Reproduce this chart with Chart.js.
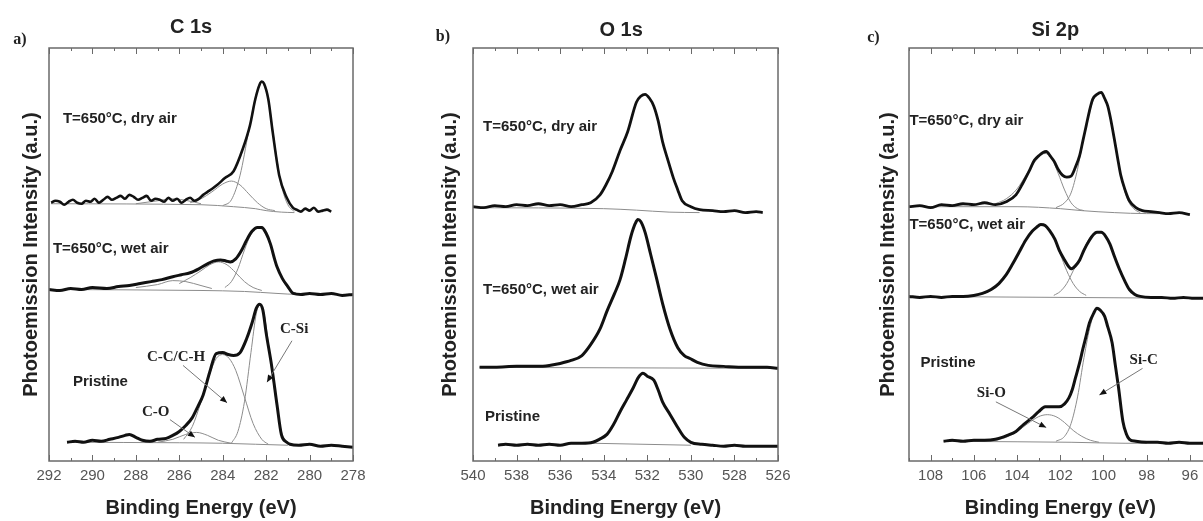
<!DOCTYPE html>
<html><head><meta charset="utf-8">
<script src="https://cdn.jsdelivr.net/npm/chart.js@4.4.1/dist/chart.umd.min.js"></script>
<style>
html,body{margin:0;padding:0;background:#fff;overflow:hidden;width:1203px;height:521px;}
#wrap{position:relative;width:1203px;height:521px;overflow:hidden;background:#fff;}
canvas{position:absolute;top:0;}
</style></head><body>
<div id="wrap">
<canvas id="ca" width="400" height="521" style="left:0"></canvas>
<canvas id="cb" width="400" height="521" style="left:400px"></canvas>
<canvas id="cc" width="420" height="521" style="left:800px"></canvas>
</div>
<script>
// ---------- tick labels ----------
const ticksA = [292,290,288,286,284,282,280,278];
const ticksB = [540,538,536,534,532,530,528,526];
const ticksC = [108,106,104,102,100,98,96];

// ---------- Panel a: C 1s ----------
const aDryE = [291.9,291.7,291.5,291.3,291.1,290.9,290.7,290.5,290.3,290.1,289.9,289.7,289.5,289.3,289.1,288.9,288.7,288.5,288.3,288.1,287.9,287.7,287.5,287.3,287.1,286.9,286.7,286.5,286.3,286.1,285.9,285.7,285.5,285.3,285.1,284.9,284.7,284.5,284.26,283.9,283.5,283.07,282.75,282.5,282.3,282.2,282.1,281.9,281.7,281.4,281.05,280.77,280.6,280.4,280.2,280.0,279.8,279.6,279.4,279.2,279.0];
const aDryI = [262,264,263,260,263,265,262,261,264,263,266,262,265,268,265,267,269,266,270,268,265,267,269,264,266,265,263,267,264,266,262,265,267,264,266,270,273,276,280,287,294,317,340,367,382,385,383,367,334,290,267,257,255,253,256,254,257,253,254,255,253];
const aDryBaseE = [291.9,285,283.5,282.5,282,281.3,280.7];
const aDryBaseI = [261,260,258,256,254,252.5,252];
const aDryCSiE = [284.0,283.6,283.2,282.8,282.5,282.2,281.9,281.6,281.3,281.0,280.7];
const aDryCSiI = [259,265,290,335,368,384,366,320,280,260,253];
const aDryCCE = [285.5,285.0,284.5,284.0,283.6,283.2,282.8,282.4,282.0,281.6];
const aDryCCI = [262,266,273,281,284,280,271,262,256,254];
const aDryCOE = [288.0,287.0,286.3,285.6,285.0];
const aDryCOI = [261,264,266,264,261];

const aWetE = [292.0,291.5,291.0,290.5,290.0,289.33,288.8,288.3,287.8,287.3,286.8,286.3,285.9,285.5,285.1,284.7,284.4,284.1,283.85,283.65,283.4,283.15,282.9,282.65,282.4,282.2,282.0,281.8,281.6,281.5,281.25,281.0,280.75,280.4,280.0,279.5,279.0,278.5,278.0];
const aWetI = [174,173,175,174,176,175,177,178,180,182,184,187,189,191,195,200,203,204,203,202,205,213,224,233,237,237,231,220,204,197,185,177,170,169,170,169,170,168,169];
const aWetBaseE = [292.0,285,283,281.5,280.5,278.0];
const aWetBaseI = [174,173,172,170,169,169];
const aWetCSiE = [283.9,283.6,283.3,283.0,282.7,282.4,282.1,281.8,281.5,281.2,280.9,280.6];
const aWetCSiI = [176,182,195,214,230,237,233,219,197,182,173,170];
const aWetCCE = [286.0,285.5,285.0,284.6,284.2,283.8,283.4,283.0,282.6,282.2];
const aWetCCI = [180,186,193,199,202,199,191,182,176,173];
const aWetCOE = [288.0,287.0,286.3,285.7,285.0,284.5];
const aWetCOI = [176,179,183,182,178,175];

const aPrisE = [291.17,290.8,290.4,290.0,289.6,289.2,288.8,288.5,288.3,288.0,287.7,287.35,287.0,286.6,286.3,286.0,285.7,285.4,285.15,284.9,284.6,284.3,284.0,283.75,283.5,283.2,282.9,282.65,282.45,282.3,282.15,282.0,281.75,281.5,281.3,281.05,280.9,280.5,280.0,279.5,279.0,278.5,278.0];
const aPrisI = [19,20,19,21,20,22,24,26,27,24,21,20,22,23,26,30,36,44,55,67,90,109,110,108,107,110,124,140,155,159,153,130,97,57,27,19,17,16,17,15,16,15,14];
const aPrisBaseE = [291.17,286,284,282.5,281.0];
const aPrisBaseI = [19,18.5,18,17,16];
const aPrisCSiE = [283.6,283.3,283.0,282.7,282.45,282.3,282.1,281.9,281.7,281.5,281.3,281.0];
const aPrisCSiI = [18,30,60,110,150,158,150,120,85,55,30,18];
const aPrisCCE = [285.8,285.4,285.0,284.6,284.3,284.0,283.7,283.4,283.0,282.6,282.2,281.9];
const aPrisCCI = [22,35,60,88,104,108,104,92,65,38,22,17];
const aPrisCOE = [287.0,286.3,285.7,285.2,284.7,284.2,283.6];
const aPrisCOI = [19,22,27,29,26,21,18];

// ---------- Panel b: O 1s ----------
const bDryE = [540.0,539.5,539.0,538.5,538.0,537.5,537.0,536.5,536.0,535.5,535.0,534.6,534.17,533.9,533.6,533.25,532.9,532.5,532.3,532.1,531.9,531.7,531.5,531.3,531.05,530.8,530.6,530.4,530.0,529.6,529.0,528.5,528.0,527.5,527.0,526.7];
const bDryI = [258,257,259,258,260,259,261,259,260,258,260,262,270,280,294,315,334,364,370,372,368,360,345,324,305,287,275,264,258,255,254,253,254,252,253,252];
const bDryBaseE = [540,534,532.5,531,529.6];
const bDryBaseI = [257,256,254.5,252.5,252];

const bWetE = [539.7,539.0,538.0,537.0,536.5,536.0,535.5,535.0,534.6,534.17,533.85,533.5,533.25,533.0,532.75,532.55,532.43,532.3,532.1,531.85,531.56,531.3,530.96,530.6,530.3,530.04,529.7,529.2,528.5,527.5,526.5,526.0];
const bWetI = [95,95,96,96,97,99,102,107,118,134,152,170,184,205,228,241,245,243,232,210,184,160,134,115,107,104,100,97,96,95,95,94];
const bWetBaseE = [539.7,526.0];
const bWetBaseI = [95,94];

const bPrisE = [538.85,538.5,538.0,537.5,537.0,536.5,536.0,535.5,535.0,534.5,534.2,533.85,533.55,533.25,532.95,532.65,532.4,532.2,532.0,531.7,531.5,531.3,530.95,530.6,530.3,530.0,529.5,529.0,528.5,528.0,527.5,527.0,526.0];
const bPrisI = [16,17,16,17,16,17,16,18,18,19,22,27,37,50,62,74,85,89,86,82,72,60,47,34,24,19,17,16,15,16,15,15,15];
const bPrisBaseE = [534.5,530.0];
const bPrisBaseI = [18,16];

// ---------- Panel c: Si 2p ----------
const cDryE = [109.0,108.5,108.0,107.5,107.0,106.5,106.0,105.5,105.0,104.5,104.05,103.75,103.44,103.2,102.98,102.8,102.65,102.45,102.28,102.1,101.9,101.7,101.5,101.3,101.1,100.95,100.8,100.65,100.5,100.3,100.1,99.95,99.8,99.65,99.5,99.35,99.2,99.0,98.8,98.5,98.2,97.8,97.4,97.0,96.5,96.0];
const cDryI = [258,259,257,260,259,261,260,262,260,263,270,281,294,305,310,313,314,309,304,296,290,288,289,298,310,325,340,355,367,372,374,368,360,345,327,308,290,275,264,257,254,253,252,251,252,250];
const cDryBaseE = [109,104,102,101,99.5,98,96.5];
const cDryBaseI = [258,258,256,254,252,251,251];
const cDrySiOE = [105.0,104.5,104.0,103.5,103.0,102.7,102.4,102.1,101.8,101.5,101.2,100.9];
const cDrySiOI = [261,266,276,293,308,312,307,292,275,262,256,254];
const cDrySiCE = [102.2,101.8,101.5,101.2,100.9,100.6,100.3,100.1,99.8,99.5,99.2,98.9,98.6,98.3];
const cDrySiCI = [257,262,272,296,330,358,372,373,360,328,290,266,256,252];

const cWetE = [109.0,108.5,108.0,107.5,107.0,106.5,106.0,105.6,105.2,104.84,104.5,104.2,103.9,103.6,103.3,103.1,102.9,102.7,102.5,102.25,102.05,101.8,101.6,101.5,101.3,101.1,100.9,100.65,100.45,100.3,100.1,99.9,99.7,99.5,99.25,99.0,98.8,98.55,98.3,97.8,97.3,96.8,96.3,95.8,95.3];
const cWetI = [167,166,167,166,167,167,168,170,174,180,189,200,212,224,233,237,240,239,234,225,214,204,197,195,198,204,214,224,230,232,232,228,220,208,194,182,174,169,167,166,166,165,166,165,165];
const cWetBaseE = [109,95.3];
const cWetBaseI = [167,165];
const cWetSiOE = [105.5,105.0,104.5,104.0,103.5,103.1,102.9,102.6,102.3,102.0,101.7,101.4,101.1,100.8];
const cWetSiOI = [170,176,189,208,228,238,240,236,226,210,193,180,172,168];
const cWetSiCE = [102.3,102.0,101.7,101.4,101.1,100.8,100.5,100.2,99.9,99.6,99.3,99.0,98.7,98.4];
const cWetSiCI = [168,172,180,193,205,220,230,232,228,214,196,181,172,168];

const cPrisE = [107.4,107.0,106.5,106.0,105.5,105.0,104.45,104.05,103.7,103.3,103.0,102.7,102.4,102.05,101.8,101.6,101.45,101.3,101.1,100.95,100.8,100.65,100.45,100.3,100.15,99.95,99.8,99.6,99.45,99.3,99.1,98.95,98.8,98.5,98.0,97.5,97.0,96.5,96.0,95.5,95.2];
const cPrisI = [20,21,20,21,21,22,26,30,37,44,50,55,55,55,58,64,72,84,100,114,127,140,150,155,153,147,136,120,97,74,40,28,22,20,19,19,18,19,18,18,19];
const cPrisBaseE = [107.4,104,101.5,99,98.0];
const cPrisBaseI = [20,19.5,19,18,18];
const cPrisSiOE = [105.0,104.5,104.0,103.5,103.0,102.6,102.2,101.8,101.4,101.0,100.6,100.2];
const cPrisSiOI = [21,24,30,38,45,47,45,39,31,25,21,19];
const cPrisSiCE = [102.2,101.8,101.5,101.2,100.9,100.6,100.3,100.1,99.9,99.6,99.3,99.1,98.9,98.6];
const cPrisSiCI = [20,25,38,65,105,138,154,152,144,118,74,42,27,20];

// ---------- helpers ----------
const SANS = '"Liberation Sans", Arial, sans-serif';
const SERIF = '"Liberation Serif", "Times New Roman", serif';
function pts(E, I) { return E.map((e, k) => ({x: e, y: I[k]})); }
function dataDs(E, I, w) {
  return {data: pts(E, I), borderColor: '#111', borderWidth: w, pointRadius: 0,
          cubicInterpolationMode: 'monotone', fill: false, order: 0};
}
function fitDs(E, I) {
  return {data: pts(E, I), borderColor: '#8c8c8c', borderWidth: 1, pointRadius: 0,
          cubicInterpolationMode: 'monotone', fill: false, order: 1};
}
function midpoints(arr) {
  const m = [];
  for (let k = 0; k < arr.length - 1; k++) m.push((arr[k] + arr[k + 1]) / 2);
  return m;
}

const decor = {
  id: 'xps',
  afterDatasetsDraw(chart, args, o) {
    const {ctx, chartArea: ca, scales: {x, y}} = chart;
    ctx.save();
    ctx.strokeStyle = '#6a6a6a';
    ctx.lineWidth = 1.5;
    ctx.strokeRect(ca.left, ca.top, ca.right - ca.left, ca.bottom - ca.top);
    ctx.lineWidth = 1;
    const tick = (v, len) => {
      const px = Math.round(x.getPixelForValue(v)) + 0.5;
      ctx.beginPath();
      ctx.moveTo(px, ca.bottom); ctx.lineTo(px, ca.bottom - len);
      ctx.moveTo(px, ca.top); ctx.lineTo(px, ca.top + len);
      ctx.stroke();
    };
    o.major.forEach(v => tick(v, 6));
    o.minor.forEach(v => tick(v, 3));
    (o.arrows || []).forEach(a => {
      const x1 = x.getPixelForValue(a[0]), y1 = y.getPixelForValue(a[1]);
      const x2 = x.getPixelForValue(a[2]), y2 = y.getPixelForValue(a[3]);
      ctx.strokeStyle = '#777'; ctx.lineWidth = 1;
      ctx.beginPath(); ctx.moveTo(x1, y1); ctx.lineTo(x2, y2); ctx.stroke();
      const ang = Math.atan2(y2 - y1, x2 - x1), L = 7, W = 3;
      ctx.fillStyle = '#111';
      ctx.beginPath();
      ctx.moveTo(x2, y2);
      ctx.lineTo(x2 - L * Math.cos(ang) + W * Math.sin(ang), y2 - L * Math.sin(ang) - W * Math.cos(ang));
      ctx.lineTo(x2 - L * Math.cos(ang) - W * Math.sin(ang), y2 - L * Math.sin(ang) + W * Math.cos(ang));
      ctx.closePath(); ctx.fill();
    });
    (o.texts || []).forEach(t => {
      ctx.font = t.font;
      ctx.fillStyle = t.color || '#222';
      ctx.textAlign = t.align || 'left';
      ctx.textBaseline = 'middle';
      ctx.fillText(t.text, x.getPixelForValue(t.e), y.getPixelForValue(t.i));
    });
    ctx.restore();
  }
};

const LBL = 'bold 15px ' + SANS;
const TTL = 'bold 20px ' + SANS;
const LET = 'bold 16px ' + SERIF;
const SRF = 'bold 15px ' + SERIF;

function makeChart(id, cfg) {
  return new Chart(document.getElementById(id), {
    type: 'line',
    data: {datasets: cfg.datasets},
    options: {
      responsive: false, animation: false, events: [],
      layout: {padding: {left: cfg.padL, right: cfg.padR, top: 48, bottom: 0}},
      plugins: {legend: {display: false}, tooltip: {enabled: false},
                xps: {major: cfg.major, minor: midpoints(cfg.major).concat(cfg.extraMinor || []), texts: cfg.texts, arrows: cfg.arrows}},
      scales: {
        x: {type: 'linear', reverse: true, min: cfg.min, max: cfg.max,
            afterBuildTicks: s => { s.ticks = cfg.major.map(v => ({value: v})); },
            ticks: {font: {family: SANS, size: 15}, color: '#555', padding: 6, maxRotation: 0, autoSkip: false},
            grid: {display: false, drawTicks: false}, border: {display: false},
            title: {display: true, text: 'Binding Energy (eV)', font: {family: SANS, size: 20, weight: 'bold'},
                    color: '#222', padding: {top: 5, bottom: 1}}},
        y: {min: 0, max: 419, ticks: {display: false},
            grid: {display: false, drawTicks: false}, border: {display: false},
            title: {display: true, text: 'Photoemission Intensity (a.u.)', font: {family: SANS, size: 20, weight: 'bold'},
                    color: '#222', padding: {top: cfg.yTop, bottom: cfg.yBot}}}
      }
    },
    plugins: [decor]
  });
}

makeChart('ca', {
  min: 278, max: 292, major: ticksA, padL: 0, padR: 47, yTop: 19, yBot: 6,
  datasets: [
    dataDs(aDryE, aDryI, 2.6), dataDs(aWetE, aWetI, 3), dataDs(aPrisE, aPrisI, 3),
    fitDs(aDryBaseE, aDryBaseI), fitDs(aDryCSiE, aDryCSiI), fitDs(aDryCCE, aDryCCI), fitDs(aDryCOE, aDryCOI),
    fitDs(aWetBaseE, aWetBaseI), fitDs(aWetCSiE, aWetCSiI), fitDs(aWetCCE, aWetCCI), fitDs(aWetCOE, aWetCOI),
    fitDs(aPrisBaseE, aPrisBaseI), fitDs(aPrisCSiE, aPrisCSiI), fitDs(aPrisCCE, aPrisCCI), fitDs(aPrisCOE, aPrisCOI)
  ],
  texts: [
    {text: 'C 1s', e: 285.46, i: 440, font: TTL, align: 'center'},
    {text: 'a)', e: 293.34, i: 427, font: LET, align: 'center'},
    {text: 'T=650°C, dry air', e: 291.36, i: 347, font: LBL},
    {text: 'T=650°C, wet air', e: 291.82, i: 215, font: LBL},
    {text: 'Pristine', e: 290.9, i: 80, font: LBL},
    {text: 'C-C/C-H', e: 287.49, i: 105, font: SRF},
    {text: 'C-Si', e: 281.36, i: 134, font: SRF},
    {text: 'C-O', e: 287.72, i: 50, font: SRF}
  ],
  arrows: [[285.83, 97, 283.80, 59], [280.81, 122, 281.96, 80], [286.43, 42, 285.28, 24]]
});

makeChart('cb', {
  min: 526, max: 540, major: ticksB, padL: 24, padR: 22, yTop: 14, yBot: 11,
  datasets: [
    dataDs(bDryE, bDryI, 2.8), dataDs(bWetE, bWetI, 3), dataDs(bPrisE, bPrisI, 3),
    fitDs(bDryBaseE, bDryBaseI), fitDs(bWetBaseE, bWetBaseI), fitDs(bPrisBaseE, bPrisBaseI)
  ],
  texts: [
    {text: 'O 1s', e: 533.2, i: 437, font: TTL, align: 'center'},
    {text: 'b)', e: 541.38, i: 430, font: LET, align: 'center'},
    {text: 'T=650°C, dry air', e: 539.54, i: 339, font: LBL},
    {text: 'T=650°C, wet air', e: 539.54, i: 174, font: LBL},
    {text: 'Pristine', e: 539.45, i: 45, font: LBL}
  ],
  arrows: []
});

makeChart('cc', {
  min: 95, max: 109, major: ticksC, extraMinor: [109, 97, 95], padL: 60, padR: 8.5, yTop: 16, yBot: 9,
  datasets: [
    dataDs(cDryE, cDryI, 2.8), dataDs(cWetE, cWetI, 3), dataDs(cPrisE, cPrisI, 3),
    fitDs(cDryBaseE, cDryBaseI), fitDs(cDrySiOE, cDrySiOI), fitDs(cDrySiCE, cDrySiCI),
    fitDs(cWetBaseE, cWetBaseI), fitDs(cWetSiOE, cWetSiOI), fitDs(cWetSiCE, cWetSiCI),
    fitDs(cPrisBaseE, cPrisBaseI), fitDs(cPrisSiOE, cPrisSiOI), fitDs(cPrisSiCE, cPrisSiCI)
  ],
  texts: [
    {text: 'Si 2p', e: 102.23, i: 437, font: TTL, align: 'center'},
    {text: 'c)', e: 110.65, i: 429, font: LET, align: 'center'},
    {text: 'T=650°C, dry air', e: 108.98, i: 345, font: LBL},
    {text: 'T=650°C, wet air', e: 108.98, i: 240, font: LBL},
    {text: 'Pristine', e: 108.47, i: 100, font: LBL},
    {text: 'Si-O', e: 105.86, i: 69, font: SRF},
    {text: 'Si-C', e: 98.79, i: 102, font: SRF}
  ],
  arrows: [[104.98, 60, 102.65, 34], [98.19, 94, 100.19, 67]]
});
</script>
</body></html>
